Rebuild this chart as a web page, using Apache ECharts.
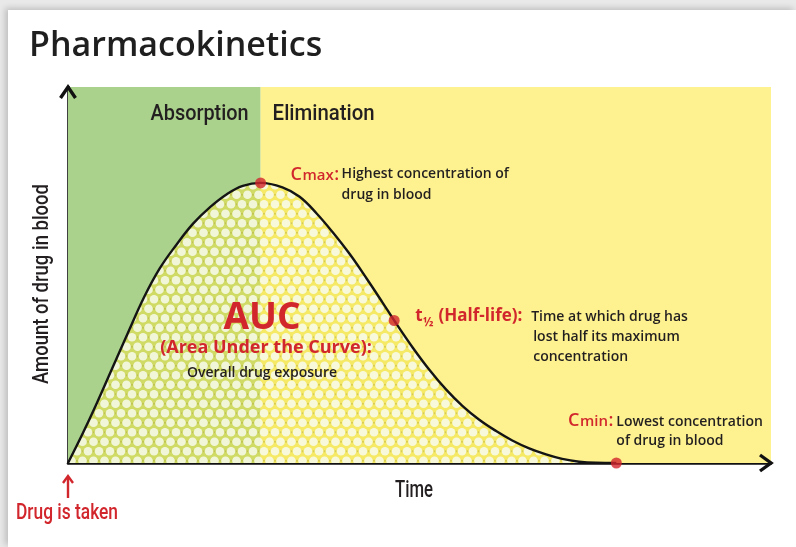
<!DOCTYPE html>
<html><head><meta charset="utf-8">
<script src="https://cdn.jsdelivr.net/npm/echarts@6/dist/echarts.min.js"></script>
<style>
html,body{margin:0;padding:0;width:796px;height:547px;overflow:hidden;background:#e9e9e9;}
#card{position:absolute;left:8px;top:10px;width:788px;height:537px;background:#fff;box-shadow:-3px -2px 6px rgba(0,0,0,0.18);}
#chart{position:absolute;left:0;top:0;width:796px;height:547px;}
</style></head>
<body><div id="card"></div><div id="chart"></div>
<script>
// ---- data (x = time 0..100, y = amount 0..100) ----
const timeValues   = [0, 2, 4, 6.2, 8.5, 10.8, 13.07, 15.48, 17.76, 20.17, 22.59, 24.86, 27.4, 30.5, 32.95, 35.4, 37.6, 40.1, 42.5, 44.7, 46.4, 49.0, 51.4, 53.8, 56.1, 58.5, 60.9, 63.2, 65.6, 68.0, 70.3, 72.7, 75.1, 78];
const amountValues = [0, 7.5, 15.5, 24.8, 34.5, 44, 51.8, 58.2, 63.6, 68, 71.5, 73.7, 74.5, 73.3, 70.8, 66.3, 61.5, 55.5, 49.0, 42.8, 37.9, 30.8, 24.8, 19.5, 15.2, 11.5, 8.5, 6.0, 3.9, 2.3, 1.1, 0.35, 0.05, 0];
const keyPointNames  = ['Cmax', 't½', 'Cmin'];
const keyPointTime   = [27.4, 46.4, 78];
const keyPointAmount = [74.5, 37.9, 0];
const phaseNames = ['Absorption', 'Elimination'];
const phaseStart = [0, 27.4];
const phaseEnd   = [27.4, 100];
const axisNames = ['Time', 'Amount of drug in blood'];
const titleText = 'Pharmacokinetics';
const cmaxDesc = ['Highest concentration of', 'drug in blood'];
const halfDesc = ['Time at which drug has', 'lost half its maximum', 'concentration'];
const cminDesc = ['Lowest concentration', 'of drug in blood'];
const aucText = ['AUC', '(Area Under the Curve):', 'Overall drug exposure'];
const doseText = 'Drug is taken';

const RED = '#d2262d', INK = '#231f20';
const SANS = "'Open Sans','Noto Sans',sans-serif";
const CONDF = "Roboto,'Noto Sans',sans-serif";

const mctx = document.createElement('canvas').getContext('2d');
function tw(text, weight, size, fam){ mctx.font = weight + ' ' + size + 'px ' + fam; return mctx.measureText(text).width; }

function makePattern(){
  const c = document.createElement('canvas'); c.width = 11; c.height = 19;
  const g = c.getContext('2d');
  g.fillStyle = 'rgba(238,226,70,0.55)'; g.fillRect(0,0,11,19);
  g.fillStyle = 'rgba(248,252,238,0.85)';
  [[5.5,4.75],[0,14.25],[11,14.25]].forEach(p=>{g.beginPath();g.arc(p[0],p[1],4.3,0,Math.PI*2);g.fill();});
  g.fillStyle = 'rgba(160,150,50,0.35)';
  [[0,4.75],[11,4.75],[5.5,14.25]].forEach(p=>{g.beginPath();g.arc(p[0],p[1],1.1,0,Math.PI*2);g.fill();});
  return c;
}

const chart = echarts.init(document.getElementById('chart'), null, {renderer:'canvas'});
const axisCommon = {
  type:'value', min:0, max:100,
  axisLabel:{show:false}, axisTick:{show:false}, splitLine:{show:false},
  axisLine:{show:true, lineStyle:{color:'#111', width:2.6}}
};
const lineData = timeValues.map((t,i)=>[t, amountValues[i]]);
const phaseColors = ['#abd28c', '#fdf28f'];

chart.setOption({
  animation:false,
  backgroundColor:'transparent',
  grid:{left:68, right:25, top:87, bottom:84},
  xAxis:Object.assign({}, axisCommon),
  yAxis:Object.assign({}, axisCommon),
  series:[
    {
      type:'line', data:lineData, smooth:0.4, symbol:'none', z:3,
      lineStyle:{color:'#141414', width:2.4},
      areaStyle:{color:{image:makePattern(), repeat:'repeat'}, opacity:1},
      markArea:{
        silent:true,
        label:{show:false},
        data: phaseNames.map((n,i)=>[
          {name:n, xAxis:phaseStart[i], yAxis:0, itemStyle:{color:phaseColors[i]}},
          {xAxis:phaseEnd[i], yAxis:100}
        ])
      }
    },
    {
      type:'scatter', z:5, clip:false, symbolSize:11,
      itemStyle:{color:RED},
      data: keyPointNames.map((n,i)=>({name:n, value:[keyPointTime[i], keyPointAmount[i]]}))
    }
  ]
});

const px = (t,a)=>chart.convertToPixel({gridIndex:0}, [t,a]);
const [c0x,c0y] = px(keyPointTime[0], keyPointAmount[0]);
const [c1x,c1y] = px(keyPointTime[1], keyPointAmount[1]);
const [c2x,c2y] = px(keyPointTime[2], keyPointAmount[2]);
const [ox,oy] = px(0,0);
const [xEnd] = px(100,0);
const [, yEnd] = px(0,100);
const [bx] = px(phaseEnd[0], 0);

function T(text, x, y, size, weight, fill, align, fam){
  return {type:'text', x:x, y:y, z:50, style:{text:text, fontFamily:fam||SANS, fontSize:size, fontWeight:weight, fill:fill, align:align||'left', verticalAlign:'middle'}};
}
function C(text, x, y, width, size, fill, align, rot){
  const w = tw(text, 500, size, CONDF);
  return {type:'text', x:x, y:y, z:50, rotation:rot||0, scaleX:width/w, style:{text:text, fontFamily:CONDF, fontSize:size, fontWeight:500, fill:fill, align:align||'left', verticalAlign:'middle'}};
}
function sublabel(main, sub, colon, x, by, mainSize, subSize, weight, anchorRight){
  const w1 = tw(main, weight, mainSize, SANS), w2 = tw(sub, weight, subSize, SANS), w3 = tw(colon, weight, mainSize, SANS);
  let left = anchorRight ? x - (w1+w2+w3+1) : x;
  const els = [];
  els.push(T(main, left, by - 0.36*mainSize, mainSize, weight, RED));
  els.push(T(sub, left + w1 + 0.5, by - 0.36*subSize + (sub==='½'?4:0), subSize, weight, RED));
  els.push(T(colon, left + w1 + w2 + 1, by - 0.36*mainSize, mainSize, weight, RED));
  return els;
}
function lines(arr, x, firstBaseline, step, size, weight, fill, xs){
  return arr.map((s,i)=>T(s, (xs&&xs[i]!=null)?xs[i]:x, firstBaseline + i*step - 0.36*size, size, weight, fill));
}

const g = [];
g.push(T(titleText, 29, 46, 34, 600, '#1f1f1f'));
g.push(C(phaseNames[0], bx-12, 114.5, 98, 22, INK, 'right'));
g.push(C(phaseNames[1], bx+12, 114.5, 102, 22, INK, 'left'));
g.push(C(axisNames[1], 42, 284, 200, 22, INK, 'center', Math.PI/2));
g.push(C(axisNames[0], 414, 491, 38, 23, INK, 'center'));
g.push(C(doseText, ox-1, 513, 102, 22, RED, 'center'));
g.push({type:'polyline', z:40, shape:{points:[[ox-7.5,yEnd+11],[ox,yEnd],[ox+7.5,yEnd+11]]}, style:{stroke:'#111', lineWidth:3.4, fill:null, lineJoin:'miter'}});
g.push({type:'polyline', z:40, shape:{points:[[xEnd-11,oy-8],[xEnd,oy],[xEnd-11,oy+8]]}, style:{stroke:'#111', lineWidth:3.4, fill:null, lineJoin:'miter'}});
g.push({type:'line', z:40, shape:{x1:ox, y1:oy+35, x2:ox, y2:oy+14}, style:{stroke:RED, lineWidth:2.4}});
g.push({type:'polyline', z:40, shape:{points:[[ox-5,oy+20],[ox,oy+13],[ox+5,oy+20]]}, style:{stroke:RED, lineWidth:2.4, fill:null}});
sublabel('C','max',':', c0x+30, c0y-2, 18, 15, 600, false).forEach(e=>g.push(e));
lines(cmaxDesc, c0x+81, c0y-4, 21, 14, 600, INK).forEach(e=>g.push(e));
sublabel('t','½',' (Half-life):', c1x+21, c1y+2, 17, 12, 700, false).forEach(e=>g.push(e));
lines(halfDesc, c1x+137, c1y+2, 20, 14, 600, INK, [null, c1x+139, c1x+139]).forEach(e=>g.push(e));
sublabel('C','min',':', c2x-3, c2y-36, 18, 15, 600, true).forEach(e=>g.push(e));
lines(cminDesc, c2x, c2y-36, 19.5, 14, 600, INK).forEach(e=>g.push(e));
g.push(T(aucText[0], 262, 318, 37, 700, RED, 'center'));
g.push(T(aucText[1], 266, 348, 18, 700, RED, 'center'));
g.push(T(aucText[2], 262, 373, 14, 600, INK, 'center'));

chart.setOption({graphic: g});
</script></body></html>
